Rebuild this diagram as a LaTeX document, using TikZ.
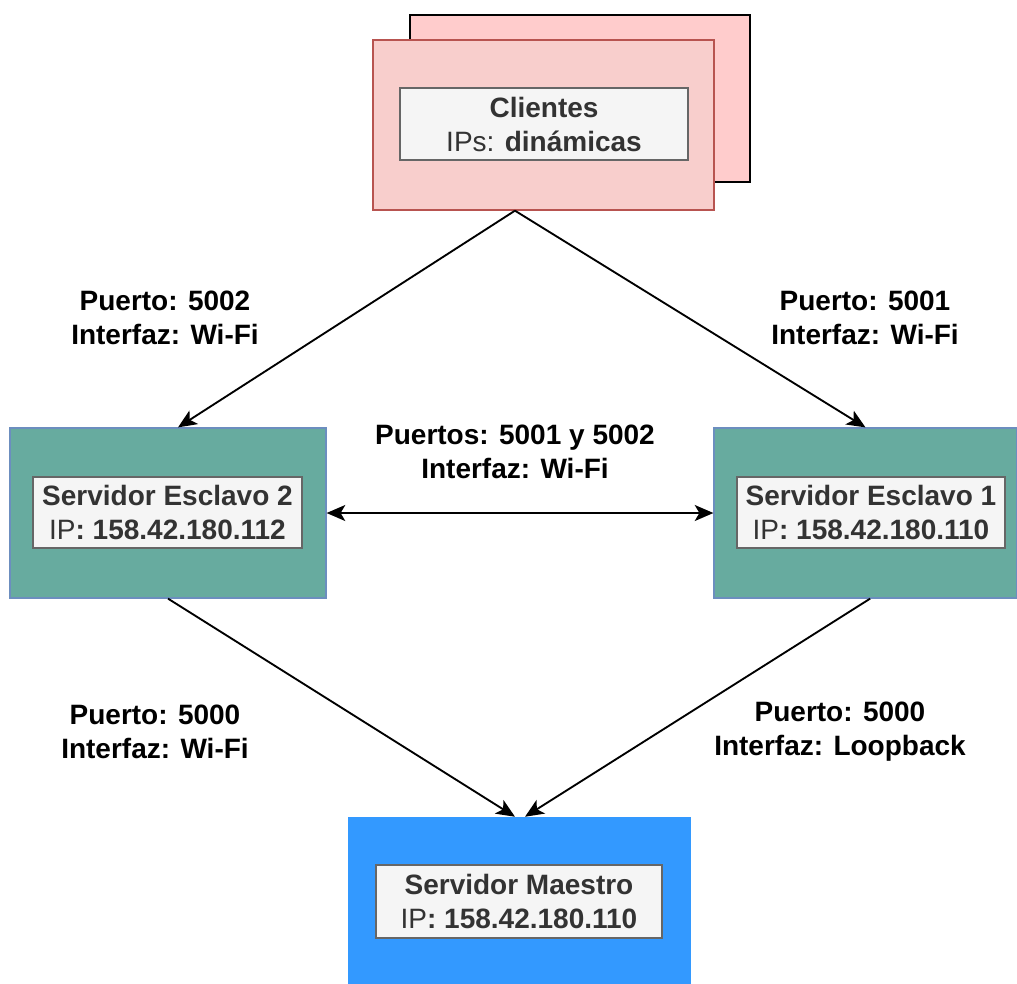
\documentclass[tikz,border=0pt]{standalone}
\usepackage{fontspec}
\setmainfont{Liberation Sans}
\usetikzlibrary{arrows.meta,positioning}
\definecolor{clientfill}{HTML}{F8CECC}
\definecolor{clientback}{HTML}{FFCCCC}
\definecolor{clientline}{HTML}{B85450}
\definecolor{slavefill}{HTML}{67AB9F}
\definecolor{slaveline}{HTML}{6C8EBF}
\definecolor{masterfill}{HTML}{3399FF}
\definecolor{tagfill}{HTML}{F5F5F5}
\definecolor{tagline}{HTML}{666666}
\definecolor{tagtext}{HTML}{333333}
\tikzset{
  host/.style={draw=slaveline, line width=0.9pt, inner sep=0pt},
  tag/.style={draw=tagline, fill=tagfill, line width=1pt, text=tagtext, font=\fontsize{21}{25.5}\selectfont,
    align=center, inner sep=0pt},
  link/.style={-{Stealth[length=14pt,width=12pt,inset=3.5pt]}, line width=1.4pt},
  biglink/.style={{Stealth[length=14pt,width=12pt,inset=3.5pt]}-{Stealth[length=14pt,width=12pt,inset=3.5pt]}, line width=1.4pt},
  note/.style={font=\bfseries\fontsize{21}{25.5}\selectfont, align=center}
}

\begin{document}
\begin{tikzpicture}[x=0.75pt,y=-0.75pt]
  \useasboundingbox (0,0) rectangle (1017,983);
  % clientes
  \node[draw=black, fill=clientback, line width=1pt, minimum width=340*0.75pt, minimum height=167*0.75pt] (clientsback) at (580,98.5) {};
  \node[draw=clientline, fill=clientfill, line width=1pt, minimum width=341*0.75pt, minimum height=170*0.75pt] (clients) at (543.5,125) {};
  \node[tag, minimum width=288*0.75pt, minimum height=72*0.75pt] (clientstag) at (544,124) {\textbf{Clientes}\\IPs: \textbf{dinámicas}};
  % servidores
  \node[host, fill=slavefill, minimum width=316*0.75pt, minimum height=170*0.75pt] (slave2) at (168,513) {};
  \node[tag, minimum width=269*0.75pt, minimum height=71*0.75pt] (slave2tag) at (167.5,512.5) {\textbf{Servidor Esclavo 2}\\IP\textbf{: 158.42.180.112}};
  \node[host, fill=slavefill, minimum width=303*0.75pt, minimum height=170*0.75pt] (slave1) at (865.5,513) {};
  \node[tag, minimum width=268*0.75pt, minimum height=71*0.75pt] (slave1tag) at (871,512.5) {\textbf{Servidor Esclavo 1}\\IP\textbf{: 158.42.180.110}};
  \node[draw=masterfill, fill=masterfill, inner sep=0pt, minimum width=342*0.75pt, minimum height=166*0.75pt] (master) at (519,900) {};
  \node[tag, minimum width=286*0.75pt, minimum height=73*0.75pt] (mastertag) at (519,901.5) {\textbf{Servidor Maestro}\\IP\textbf{: 158.42.180.110}};
  % conexiones
  \draw[link] ([xshift=-21.4pt]clients.south) -- ([xshift=7.5pt]slave2.north);
  \draw[link] ([xshift=-21.4pt]clients.south) -- (slave1.north);
  \draw[biglink] (slave2.east) -- (slave1.west);
  \draw[link] (slave2.south) -- ([xshift=-3pt]master.north);
  \draw[link] ([xshift=3.5pt]slave1.south) -- ([xshift=4.5pt]master.north);
  % etiquetas
  \node[note] (lbl2) at (165,318) {Puerto: 5002\\Interfaz: Wi-Fi};
  \node[note] (lbl1) at (865,318) {Puerto: 5001\\Interfaz: Wi-Fi};
  \node[note] (lbl12) at (515,452) {Puertos: 5001 y 5002\\Interfaz: Wi-Fi};
  \node[note] (lbl2m) at (155,732) {Puerto: 5000\\Interfaz: Wi-Fi};
  \node[note] (lbl1m) at (840,732) {Puerto: 5000\\Interfaz: Loopback};
\end{tikzpicture}
\end{document}
